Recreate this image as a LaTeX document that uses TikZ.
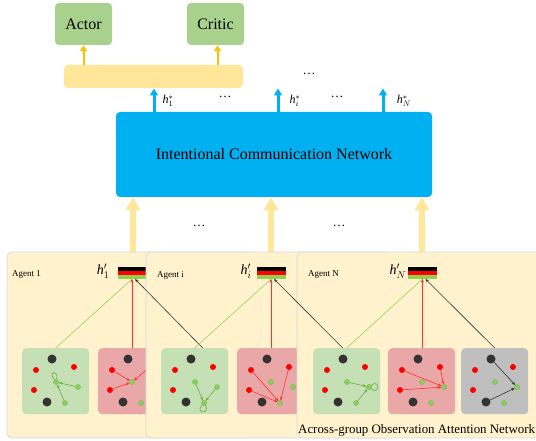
\documentclass[tikz,border=0pt]{standalone}
\usepackage{fontspec}
\setmainfont{Liberation Serif}
\usetikzlibrary{arrows.meta}

\definecolor{actg}{HTML}{A9D18E}
\definecolor{ylw}{HTML}{FFE699}
\definecolor{arrorange}{HTML}{FFC000}
\definecolor{icnblue}{HTML}{00B0F0}
\definecolor{agbg}{HTML}{FFF2CC}
\definecolor{agedge}{HTML}{D3DBE4}
\definecolor{pgreen}{HTML}{C5E0B4}
\definecolor{ppink}{HTML}{EAA7A7}
\definecolor{pgray}{HTML}{BFBFBF}
\definecolor{dotdark}{HTML}{333333}
\definecolor{dotred}{HTML}{FF0000}
\definecolor{dotgreen}{HTML}{8CD05C}
\definecolor{dotgreenrim}{HTML}{6AB040}
\definecolor{barg}{HTML}{92D050}
\definecolor{lgline}{HTML}{A2D46E}
\definecolor{rline}{HTML}{FF3030}

\tikzset{
  greenbox/.style={fill=actg, rounded corners=4pt, minimum width=57pt,
    minimum height=42pt, inner sep=0, font=\fontsize{16}{16}\selectfont},
  featbar/.style={fill=ylw, rounded corners=4pt, minimum width=179pt,
    minimum height=23pt, inner sep=0},
  icnbox/.style={fill=icnblue, rounded corners=4pt, minimum width=316pt,
    minimum height=85pt, inner sep=0, font=\fontsize{16}{16}\selectfont},
  oarrow/.style={draw=arrorange, line width=2pt, -{Triangle[length=6pt,width=7pt]}},
  barrow/.style={draw=icnblue, line width=3pt, -{Triangle[length=7pt,width=8pt]}},
  yarrow/.style={draw=ylw, line width=5.5pt, -{Triangle[length=13pt,width=14pt]}},
  agentbox/.style={fill=agbg, draw=agedge, line width=0.8pt, rounded corners=5pt,
    minimum width=245pt, minimum height=186pt, inner sep=0},
  agentlabel/.style={anchor=west, inner sep=0, font=\fontsize{9}{9}\selectfont},
  hlabel/.style={inner sep=0, font=\fontsize{14}{14}\selectfont},
  toplabel/.style={inner sep=0, font=\fontsize{12}{12}\selectfont},
  dotslabel/.style={inner sep=0, font=\fontsize{13}{13}\selectfont},
  panel/.style={rounded corners=4pt, minimum width=67pt, minimum height=66pt, inner sep=0},
  bdot/.style={circle, fill=dotdark, minimum size=9pt, inner sep=0},
  rdot/.style={circle, fill=dotred, minimum size=6pt, inner sep=0},
  gdot/.style={circle, fill=dotgreen, draw=dotgreenrim, line width=0.3pt,
    minimum size=5pt, inner sep=0},
  stripe/.style={minimum width=29pt, minimum height=4pt, inner sep=0, outer sep=0},
  tip/.style={-{Stealth[length=3.5pt,width=3pt]}},
  gedge/.style={draw=dotgreenrim, line width=0.6pt},
  redge/.style={draw=rline, line width=0.6pt},
  kedge/.style={draw=dotdark, line width=0.6pt},
  linkg/.style={draw=lgline, line width=0.7pt},
  linkr/.style={draw=rline, line width=0.7pt, tip},
  linkk/.style={draw=dotdark, line width=0.6pt, tip},
}

% one observation panel with its entity dots
\newcommand\obspanel[4]{%
  \node[panel, fill=#4, anchor=north west] (#1) at (#2,#3) {};
  \begin{scope}[shift={(#2,#3)}]
    \node[bdot] (#1-b1) at (30,11) {};
    \node[rdot] (#1-r1) at (14,22) {};
    \node[rdot] (#1-r2) at (52,19) {};
    \node[rdot] (#1-r3) at (12,42) {};
    \node[gdot] (#1-g1) at (34,34) {};
    \node[gdot] (#1-g2) at (56,39) {};
    \node[gdot] (#1-g3) at (43,55) {};
    \node[bdot] (#1-b2) at (25,54) {};
  \end{scope}}

% three-stripe hidden state of an agent
\newcommand\statebar[3]{%
  \node[stripe, fill=black] (#1k) at (#2,#3+2) {};
  \node[stripe, fill=red] (#1r) at (#2,#3+6) {};
  \node[stripe, fill=barg] (#1g) at (#2,#3+10) {};}

\begin{document}
\begin{tikzpicture}[x=1pt, y=-1pt]
\useasboundingbox (0,0) rectangle (536,441);

% ---------- upper part ----------
\node[greenbox] (actor) at (83.5,24) {Actor};
\node[greenbox] (critic) at (215.5,24) {Critic};
\node[featbar] (feat) at (153.5,76.5) {};
\draw[oarrow] (actor.south |- feat.north) -- (actor.south);
\draw[oarrow] ([xshift=2pt]critic.south |- feat.north) -- ([xshift=2pt]critic.south);

\node[icnbox] (icn) at (274,154.5) {Intentional Communication Network};

\coordinate (o1) at (154,88.5);
\coordinate (oi) at (278,88.5);
\coordinate (oN) at (383,88.5);
\draw[barrow] (icn.north -| o1) -- (o1);
\draw[barrow] (icn.north -| oi) -- (oi);
\draw[barrow] (icn.north -| oN) -- (oN);
\node[toplabel] (t1) at (168,101) {\textit{h}$^{*}_{1}$};
\node[toplabel] (ti) at (295,101) {\textit{h}$^{*}_{i}$};
\node[toplabel] (tN) at (404,101) {\textit{h}$^{*}_{N}$};
\node[dotslabel] (d1) at (225,97) {…};
\node[dotslabel] (d2) at (337,97) {…};
\node[dotslabel] (d3) at (309,74) {…};

% inputs to the communication network
\coordinate (y1) at (133,258);
\coordinate (yi) at (271,258);
\coordinate (yN) at (422,258);
\draw[yarrow] (y1) -- (y1 |- icn.south);
\draw[yarrow] (yi) -- (yi |- icn.south);
\draw[yarrow] (yN) -- (yN |- icn.south);
\node[dotslabel] (d4) at (199,226) {…};
\node[dotslabel] (d5) at (339,226) {…};

% ---------- agent 1 ----------
\node[agentbox] (ag1) at (129.5,345) {};
\node[agentlabel] (l1) at (12,275) {Agent 1};
\node[hlabel] (h1) at (103,271) {\textit{h}$^{\prime}_{1}$};
\statebar{bar1}{132}{267}
\obspanel{a1g}{22}{348}{pgreen}
\obspanel{a1p}{98}{348}{ppink}
\draw[gedge, tip] (a1g-g2) -- (a1g-g1);
\draw[gedge, tip] (a1g-g3) -- (a1g-g1);
\draw[gedge] (a1g-g1) .. controls +(-9,-12) and +(3,-12) .. (a1g-g1);
\draw[redge, tip] (a1p-r1) -- (a1p-g1);
\draw[redge, tip] (a1p-r3) -- (a1p-g1);
\draw[redge, tip] (a1p-r2) -- (a1p-g1);

% ---------- agent i ----------
\node[agentbox] (agi) at (268.5,345) {};
\node[agentlabel] (li) at (157,275) {Agent i};
\node[hlabel] (hi) at (246,271) {\textit{h}$^{\prime}_{i}$};
\statebar{bari}{271}{267}
\obspanel{aig}{161}{348}{pgreen}
\obspanel{aip}{237}{348}{ppink}
\draw[gedge, tip] (aig-g1) -- (aig-g3);
\draw[gedge, tip] (aig-g2) -- (aig-g3);
\draw[gedge] (aig-g3) .. controls +(-10,11) and +(7,11) .. (aig-g3);
\draw[redge, tip] (aip-r1) -- (aip-g3);
\draw[redge, tip] (aip-r2) -- (aip-g3);
\draw[redge, tip] (aip-r3) -- (aip-g3);

% ---------- agent N ----------
\node[agentbox] (agN) at (419.5,345) {};
\node[agentlabel] (lN) at (308,275) {Agent N};
\node[hlabel] (hN) at (398,271) {\textit{h}$^{\prime}_{N}$};
\statebar{barN}{422.5}{267}
\obspanel{ang}{313}{348}{pgreen}
\obspanel{anp}{388}{348}{ppink}
\obspanel{ank}{461}{348}{pgray}
\draw[gedge, tip] (ang-g1) -- (ang-g2);
\draw[gedge, tip] (ang-g3) -- (ang-g2);
\draw[gedge] (ang-g2) .. controls +(11,-9) and +(11,9) .. (ang-g2);
\draw[redge, tip] (anp-r1) -- (anp-g2);
\draw[redge, tip] (anp-r2) -- (anp-g2);
\draw[redge, tip] (anp-r3) -- (anp-g2);
\draw[kedge, tip] (ank-b1) -- (ank-g2);
\draw[kedge, tip] (ank-b2) -- (ank-g2);

% ---------- panel-to-state links ----------
\draw[linkg] (a1g.north) -- (bar1g.south);
\draw[linkr] (a1p.north -| bar1g) -- (bar1g.south);
\draw[linkk] ([xshift=8pt]aig.north) -- ([xshift=3pt]bar1g.south);
\draw[linkg] (aig.north) -- (barig.south);
\draw[linkr] (aip.north -| barig) -- (barig.south);
\draw[linkk] ([xshift=-4pt]ang.north) -- ([xshift=3pt]barig.south);
\draw[linkg] (ang.north) -- (barNg.south);
\draw[linkr] (anp.north -| barNg) -- (barNg.south);
\draw[linkk] (ank.north) -- ([xshift=3pt]barNg.south);

\node[anchor=base west, inner sep=0, font=\fontsize{12.9}{12.9}\selectfont]
  (cap) at (298,433) {Across-group Observation Attention Network};
\end{tikzpicture}
\end{document}
